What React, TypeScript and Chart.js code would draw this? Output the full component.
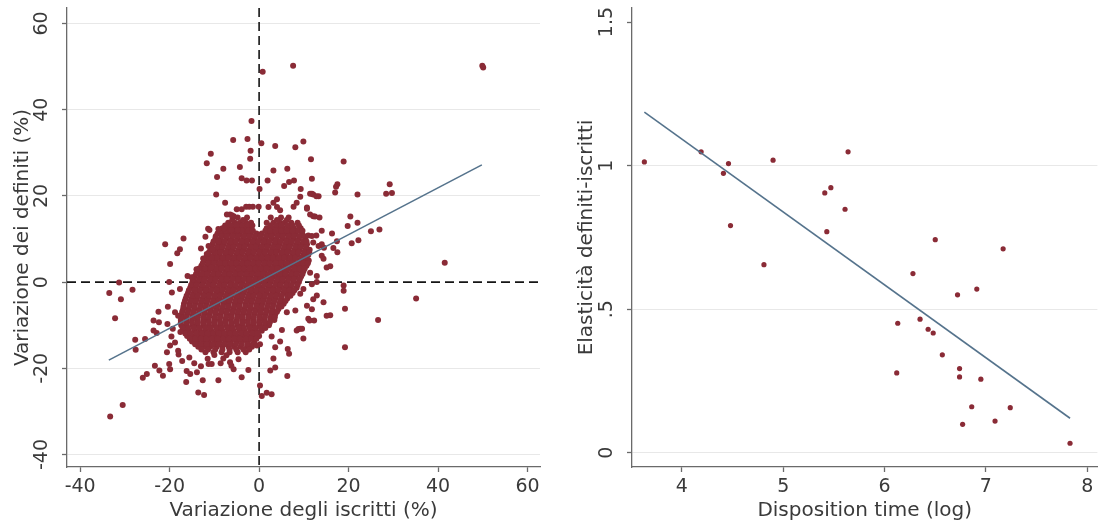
import React, { useEffect, useRef } from 'react';
import { Chart, registerables } from 'chart.js';

Chart.register(...registerables);

const FONT = "'DejaVu Sans', Verdana, sans-serif";
const TEXT = '#3a3a3a';
const MARKER = '#8a2b36';
const FIT = '#55738c';
const AXIS = '#6a6a6a';
const GRID = '#e8e8e8';

// ---------------- Left panel ----------------
const leftXTicks = [-40, -20, 0, 20, 40, 60];
const leftXLabels = ['-40', '-20', '0', '20', '40', '60'];
const leftYTicks = [-40, -20, 0, 20, 40, 60];
const leftYLabels = ['-40', '-20', '0', '20', '40', '60'];
const leftXRange = [-42.95, 62.8];
const leftYRange = [-42.9, 63.6];
const leftXTitle = 'Variazione degli iscritti (%)';
const leftYTitle = 'Variazione dei definiti (%)';
const leftFitX = [-33.6, 49.8];
const leftFitY = [-18.1, 27.2];

const leftOutliers: [number, number][] = [
  [0.8, 48.8], [7.6, 50.2], [49.9, 50.2], [50.1, 49.8],
  [-1.7, 37.4], [-5.8, 33.0], [-2.6, 33.2], [0.5, 32.2], [3.6, 31.6], [8.1, 31.3], [9.9, 32.6],
  [-1.9, 30.5], [-10.8, 29.8], [-2.0, 28.6], [-11.7, 27.6], [11.6, 28.5], [18.9, 28.0],
  [-8.0, 26.3], [-4.3, 26.7], [3.2, 25.9], [6.3, 26.3], [-9.4, 24.4], [-3.9, 24.1], [-2.8, 23.6],
  [-1.6, 23.6], [1.9, 23.6], [5.6, 22.3], [6.7, 23.2], [7.8, 23.6], [11.8, 24.0], [0.1, 21.6],
  [9.3, 21.6], [-9.6, 20.3], [11.8, 20.5], [12.8, 19.9], [9.2, 19.8], [8.4, 18.4], [-7.6, 18.4],
  [4.0, 19.2], [3.2, 18.4], [7.7, 17.5], [17.5, 22.7], [17.2, 22.1], [17.0, 20.8], [22.0, 20.3],
  [29.2, 22.7], [28.4, 20.5], [29.7, 20.7], [20.4, 15.2], [19.8, 13.0], [22.0, 13.8], [25.0, 11.8],
  [26.9, 12.2], [16.3, 11.3], [20.7, 9.0], [22.2, 9.7], [17.4, 9.5], [16.6, 7.9], [17.5, 6.9],
  [41.5, 4.5], [15.9, 3.7], [18.9, -0.8], [18.9, -2.0], [19.2, -6.2], [15.9, -7.7], [26.6, -8.8],
  [35.1, -3.8], [19.2, -15.1],
  [-33.5, -2.5], [-31.3, -0.1], [-30.9, -4.0], [-28.3, -1.8], [-32.2, -8.4], [-27.7, -13.4],
  [-25.5, -13.2], [-27.6, -15.7], [-26.0, -22.2], [-25.1, -21.3], [-23.6, -8.9], [-22.4, -9.3],
  [-23.6, -11.2], [-22.9, -11.8], [-22.5, -6.9], [-20.4, -5.7], [-20.5, -9.7], [-21.0, 8.8],
  [-16.9, 10.1], [-17.7, 7.6], [-18.3, 6.7], [-19.9, 4.2], [-20.1, 0.0], [-19.5, -2.4], [-17.7, -1.6],
  [-16.0, 1.4], [-15.1, 1.1], [-18.8, -7.0], [-18.1, -7.8], [-20.6, -16.3], [-19.9, -14.7],
  [-23.3, -19.4], [-20.1, -19.0], [-19.9, -20.2], [-22.3, -20.5], [-21.5, -21.7], [-18.8, -14.0],
  [-18.1, -15.9], [-16.2, -20.6], [-15.4, -21.3], [-13.9, -20.9], [-12.6, -22.8], [-16.3, -23.2],
  [-13.6, -25.6], [-12.3, -26.2], [-30.5, -28.5], [-33.3, -31.2], [-9.1, -22.8], [-11.3, -19.0],
  [0.2, -24.0], [0.6, -26.4], [1.7, -25.7], [2.8, -26.0], [-3.9, -22.1], [-2.4, -20.4], [-5.7, -20.2],
  [-4.6, -17.9], [-6.5, -18.6], [-6.2, -19.4], [-8.0, -17.7], [-10.6, -19.0], [3.6, -19.8],
  [2.5, -20.5], [6.3, -21.8], [3.2, -17.7], [6.4, -15.5], [6.7, -16.6], [3.6, -15.1], [4.7, -13.8],
  [2.8, -12.6], [5.1, -11.1], [9.9, -13.1], [8.8, -10.9], [9.6, -10.8], [11.3, -8.9], [12.3, -8.9],
  [14.4, -4.7], [15.1, -7.8], [-0.5, -14.7], [0.2, -14.4],
];

const leftFringe: [number, number][] = [
  [12.1, 20.3], [13.3, 19.9], [11.4, 20.5], [10.7, 17.3], [12.1, 15.3], [13.5, 15.0], [11.4, 15.7],
  [12.5, 15.2], [10.7, 17.0], [14.0, 11.9], [11.0, 10.8], [12.8, 10.8], [11.8, 10.7], [12.1, 9.2],
  [13.3, 8.4], [14.0, 8.8], [14.5, 8.0], [14.0, 6.1], [14.4, 5.4], [15.1, 3.4], [11.4, 2.2],
  [12.9, 1.4], [12.9, 0.0], [11.8, -0.5], [12.9, -3.1], [12.1, -4.0], [11.8, -6.3], [10.7, -5.5],
  [6.2, -7.0], [8.1, -6.6], [9.2, -2.7], [9.9, -1.6], [9.2, -10.8], [8.4, -11.2], [11.0, -8.5],
  [-6.5, 15.7], [-5.7, 15.3], [-5.0, 16.9], [-3.9, 16.9], [-2.9, 17.5], [-2.2, 17.5], [-1.4, 17.5],
  [-0.1, 17.5], [2.1, 17.4], [4.0, 17.4], [4.7, 16.7], [-7.2, 15.7], [-6.1, 15.5],
  [-11.3, 8.4], [-11.7, 6.5], [-10.4, 7.6], [-9.1, 9.5], [-14.0, 3.0], [-10.7, 3.4], [-11.1, 12.1],
  [-9.1, 12.3], [-7.8, 12.5], [-6.2, 12.1], [-4.8, 12.1], [-11.4, 12.4], [-12.0, 10.5], [-13.0, 7.8],
  [-12.5, 5.5], [-18.0, -16.8], [-17.2, -18.3], [-15.6, -17.5], [-14.5, -18.8], [-13.0, -19.5],
  [-11.5, -17.8], [-10.0, -16.9], [-8.6, -18.8], [-7.3, -17.0], [-17.6, -11.6], [-19.3, -10.8],
  [-19.6, -12.6],
];

const leftCoreRows: [number, number[]][] = [
  [15.0, [-4.8, -2.7, 2.6, 4.9, 6.6]],
  [13.8, [-6.9, -5.4, -4.3, -2.9, -1.8, 1.7, 3.2, 4.7, 5.7, 7.2, 8.6]],
  [12.5, [-8.2, -7.1, -5.7, -4.6, -3.3, -2.1, 1.7, 2.8, 4.1, 5.3, 6.6, 7.8, 9.3]],
  [11.3, [-9.3, -8.1, -6.9, -5.6, -4.4, -3.1, -1.9, -0.6, 0.6, 1.9, 3.1, 4.4, 5.6, 6.9, 8.2, 9.6]],
  [10.0, [-9.8, -8.6, -7.3, -6.1, -4.8, -3.6, -2.3, -1.1, 0.2, 1.4, 2.7, 3.9, 5.2, 6.4, 7.6, 8.9, 10.3]],
  [8.8, [-10.4, -9.1, -7.9, -6.6, -5.4, -4.1, -2.9, -1.6, -0.4, 0.9, 2.1, 3.4, 4.6, 5.9, 7.1, 8.4, 9.6, 10.7]],
  [7.5, [-10.9, -9.6, -8.4, -7.1, -5.9, -4.6, -3.4, -2.1, -0.9, 0.4, 1.6, 2.9, 4.1, 5.4, 6.6, 7.9, 9.1, 10.4, 11.3]],
  [6.3, [-11.4, -10.1, -8.9, -7.6, -6.4, -5.1, -3.9, -2.6, -1.4, -0.1, 1.1, 2.4, 3.6, 4.9, 6.1, 7.4, 8.6, 9.9, 11.0]],
  [5.0, [-12.3, -11.0, -9.8, -8.5, -7.3, -6.0, -4.8, -3.5, -2.3, -1.0, 0.2, 1.5, 2.7, 4.0, 5.2, 6.5, 7.7, 9.0, 10.2, 11.1]],
  [3.8, [-12.9, -11.6, -10.4, -9.1, -7.9, -6.6, -5.4, -4.1, -2.9, -1.6, -0.4, 0.9, 2.1, 3.4, 4.6, 5.9, 7.1, 8.4, 9.6, 10.6]],
  [2.5, [-13.8, -12.5, -11.3, -10.0, -8.8, -7.5, -6.3, -5.0, -3.8, -2.5, -1.3, 0.0, 1.2, 2.5, 3.7, 5.0, 6.2, 7.5, 8.7, 9.9]],
  [1.3, [-14.4, -13.1, -11.9, -10.6, -9.4, -8.1, -6.9, -5.6, -4.4, -3.1, -1.9, -0.6, 0.6, 1.9, 3.1, 4.4, 5.6, 6.9, 8.1, 9.4]],
  [0.0, [-14.9, -13.7, -12.4, -11.2, -9.9, -8.7, -7.4, -6.2, -4.9, -3.7, -2.4, -1.2, 0.1, 1.3, 2.6, 3.8, 5.1, 6.3, 7.6, 8.9]],
  [-1.3, [-15.4, -14.2, -12.9, -11.7, -10.4, -9.2, -7.9, -6.7, -5.4, -4.2, -2.9, -1.7, -0.4, 0.8, 2.1, 3.3, 4.6, 5.8, 7.1, 8.4]],
  [-2.5, [-15.9, -14.6, -13.4, -12.1, -10.9, -9.6, -8.4, -7.1, -5.9, -4.6, -3.4, -2.1, -0.9, 0.4, 1.6, 2.9, 4.1, 5.4, 6.6, 7.5]],
  [-3.8, [-16.4, -15.1, -13.9, -12.6, -11.4, -10.1, -8.9, -7.6, -6.4, -5.1, -3.9, -2.6, -1.4, -0.1, 1.1, 2.4, 3.6, 4.9, 6.3]],
  [-5.0, [-16.8, -15.5, -14.3, -13.0, -11.8, -10.5, -9.3, -8.0, -6.8, -5.5, -4.3, -3.0, -1.8, -0.5, 0.7, 2.0, 3.2, 4.5, 5.5]],
  [-6.3, [-17.0, -15.8, -14.5, -13.3, -12.0, -10.8, -9.5, -8.3, -7.0, -5.8, -4.5, -3.3, -2.0, -0.8, 0.5, 1.7, 3.0, 4.3]],
  [-7.5, [-17.3, -16.1, -14.8, -13.6, -12.3, -11.1, -9.8, -8.6, -7.3, -6.1, -4.8, -3.6, -2.3, -1.1, 0.2, 1.4, 2.7, 3.6]],
  [-8.8, [-17.5, -16.3, -15.0, -13.8, -12.5, -11.3, -10.0, -8.8, -7.5, -6.3, -5.0, -3.8, -2.5, -1.3, 0.0, 1.2, 2.5, 3.4]],
  [-10.0, [-17.4, -16.2, -14.9, -13.7, -12.4, -11.2, -9.9, -8.7, -7.4, -6.2, -4.9, -3.7, -2.4, -1.2, 0.1, 1.3, 2.2]],
  [-11.3, [-16.9, -15.7, -14.4, -13.2, -11.9, -10.7, -9.4, -8.2, -6.9, -5.7, -4.4, -3.2, -1.9, -0.7, 0.6]],
  [-12.5, [-16.1, -14.9, -13.6, -12.4, -11.1, -9.9, -8.6, -7.4, -6.1, -4.9, -3.6, -2.4, -1.1, 0.0]],
  [-13.8, [-15.0, -13.8, -12.5, -11.3, -10.0, -8.8, -7.5, -6.3, -5.0, -3.8, -2.5, -1.1]],
  [-15.0, [-13.6, -12.2, -10.9, -9.5, -8.2, -6.8, -5.5, -4.1, -2.7, -1.6]],
  [-16.3, [-12.0, -10.2, -8.4, -6.6, -4.8, -3.0]],
];

const leftCoreRowsB: [number, number[]][] = [
  [14.4, [-6.0, -3.6, 4.0, 6.2]],
  [13.15, [-7.6, -6.3, -5.0, -3.8, -2.5, -1.5, 2.5, 3.8, 5.0, 6.3, 7.5, 8.9]],
  [11.9, [-8.8, -7.5, -6.3, -5.0, -3.8, -2.5, -1.4, 1.4, 2.5, 3.7, 5.0, 6.2, 7.5, 8.7, 9.7]],
  [10.65, [-9.7, -8.4, -7.2, -5.9, -4.7, -3.4, -2.2, -0.9, 0.3, 1.6, 2.8, 4.1, 5.3, 6.6, 7.8, 9.1, 10.1]],
  [9.4, [-10.2, -8.9, -7.7, -6.4, -5.2, -3.9, -2.7, -1.4, -0.2, 1.1, 2.3, 3.6, 4.8, 6.1, 7.3, 8.6, 9.9, 10.6]],
  [8.15, [-10.7, -9.4, -8.2, -6.9, -5.7, -4.4, -3.2, -1.9, -0.7, 0.6, 1.8, 3.1, 4.3, 5.6, 6.8, 8.1, 9.3, 10.5]],
  [6.9, [-11.2, -9.9, -8.7, -7.4, -6.2, -4.9, -3.7, -2.4, -1.2, 0.1, 1.3, 2.6, 3.8, 5.1, 6.3, 7.6, 8.8, 10.1, 11.2]],
  [5.65, [-11.9, -10.6, -9.4, -8.1, -6.9, -5.6, -4.4, -3.1, -1.9, -0.6, 0.6, 1.9, 3.1, 4.4, 5.6, 6.9, 8.1, 9.4, 10.6]],
  [4.4, [-12.6, -11.3, -10.1, -8.8, -7.6, -6.3, -5.1, -3.8, -2.6, -1.3, -0.1, 1.2, 2.4, 3.7, 4.9, 6.2, 7.4, 8.7, 9.9, 10.9]],
  [3.15, [-13.4, -12.1, -10.9, -9.6, -8.4, -7.1, -5.9, -4.6, -3.4, -2.1, -0.9, 0.4, 1.6, 2.9, 4.1, 5.4, 6.6, 7.9, 9.1, 10.2]],
  [1.9, [-14.1, -12.8, -11.6, -10.3, -9.1, -7.8, -6.6, -5.3, -4.1, -2.8, -1.6, -0.3, 0.9, 2.2, 3.4, 4.7, 5.9, 7.2, 8.4, 9.7]],
  [0.65, [-14.7, -13.4, -12.2, -10.9, -9.7, -8.4, -7.2, -5.9, -4.7, -3.4, -2.2, -0.9, 0.3, 1.6, 2.8, 4.1, 5.3, 6.6, 7.8, 9.1]],
  [-0.65, [-15.2, -13.9, -12.7, -11.4, -10.2, -8.9, -7.7, -6.4, -5.2, -3.9, -2.7, -1.4, -0.2, 1.1, 2.3, 3.6, 4.8, 6.1, 7.3, 8.6]],
  [-1.9, [-15.7, -14.4, -13.2, -11.9, -10.7, -9.4, -8.2, -6.9, -5.7, -4.4, -3.2, -1.9, -0.7, 0.6, 1.8, 3.1, 4.3, 5.6, 6.8, 7.9]],
  [-3.15, [-16.2, -14.9, -13.7, -12.4, -11.2, -9.9, -8.7, -7.4, -6.2, -4.9, -3.7, -2.4, -1.2, 0.1, 1.3, 2.6, 3.8, 5.1, 6.4, 7.0]],
  [-4.4, [-16.6, -15.3, -14.1, -12.8, -11.6, -10.3, -9.1, -7.8, -6.6, -5.3, -4.1, -2.8, -1.6, -0.3, 0.9, 2.2, 3.4, 4.7, 5.9]],
  [-5.65, [-16.9, -15.6, -14.4, -13.1, -11.9, -10.6, -9.4, -8.1, -6.9, -5.6, -4.4, -3.1, -1.9, -0.6, 0.6, 1.9, 3.1, 4.4, 5.0]],
  [-6.9, [-17.2, -15.9, -14.7, -13.4, -12.2, -10.9, -9.7, -8.4, -7.2, -5.9, -4.7, -3.4, -2.2, -0.9, 0.3, 1.6, 2.8, 4.0]],
  [-8.15, [-17.4, -16.2, -14.9, -13.7, -12.4, -11.2, -9.9, -8.7, -7.4, -6.2, -4.9, -3.7, -2.4, -1.2, 0.1, 1.3, 2.6, 3.5]],
  [-9.4, [-17.5, -16.2, -15.0, -13.7, -12.5, -11.2, -10.0, -8.7, -7.5, -6.2, -5.0, -3.7, -2.5, -1.2, 0.0, 1.3, 2.4]],
  [-10.65, [-17.1, -15.9, -14.6, -13.4, -12.1, -10.9, -9.6, -8.4, -7.1, -5.9, -4.6, -3.4, -2.1, -0.9, 0.4, 1.4]],
  [-11.9, [-16.5, -15.3, -14.0, -12.8, -11.5, -10.3, -9.0, -7.8, -6.5, -5.3, -4.0, -2.8, -1.5, -0.3]],
  [-13.15, [-15.5, -14.3, -13.0, -11.8, -10.5, -9.3, -8.0, -6.8, -5.5, -4.3, -3.0, -1.8, -0.6]],
  [-14.4, [-14.3, -13.0, -11.7, -10.4, -9.1, -7.8, -6.5, -5.2, -3.9, -2.6, -1.4]],
  [-15.65, [-12.9, -11.4, -9.8, -8.2, -6.6, -5.1, -3.5, -2.2]],
];

// ---------------- Right panel ----------------
const rightXTicks = [4, 5, 6, 7, 8];
const rightXLabels = ['4', '5', '6', '7', '8'];
const rightYTicks = [0, 0.5, 1, 1.5];
const rightYLabels = ['0', '.5', '1', '1.5'];
const rightXRange = [3.508, 8.1];
const rightYRange = [-0.0498, 1.549];
const rightXTitle = 'Disposition time (log)';
const rightYTitle = 'Elasticità definiti-iscritti';
const rightX = [3.63, 4.19, 4.41, 4.46, 4.48, 4.81, 4.90, 5.41, 5.47, 5.43, 5.61, 5.64, 6.50, 7.17, 6.28, 6.72,
  6.91, 6.13, 6.35, 6.43, 6.48, 6.57, 6.12, 6.74, 6.74, 6.95, 6.86, 7.24, 6.77, 7.09, 7.83];
const rightY = [1.013, 1.048, 0.973, 1.007, 0.791, 0.655, 1.019, 0.905, 0.923, 0.770, 0.848, 1.048, 0.742, 0.710,
  0.624, 0.550, 0.570, 0.451, 0.465, 0.430, 0.417, 0.341, 0.278, 0.293, 0.264, 0.256, 0.160, 0.157, 0.099, 0.110, 0.033];
const rightFitX = [3.63, 7.83];
const rightFitY = [1.186, 0.12];

type PanelCfg = {
  points: { x: number; y: number }[];
  fit: { x: number; y: number }[];
  radius: number;
  xRange: number[];
  yRange: number[];
  xTicks: number[];
  xLabels: string[];
  yTicks: number[];
  yLabels: string[];
  xTitle: string;
  yTitle: string;
  yWidth: number;
  padRight: number;
  refLines: boolean;
  gridSkip: (v: number) => boolean;
  yTitleBaseline: number;
};

function makePlugin(p: PanelCfg) {
  return {
    id: 'stataDecor',
    beforeDatasetsDraw(chart: any) {
      if (!p.refLines) return;
      const { ctx, chartArea: a, scales } = chart;
      ctx.save();
      ctx.strokeStyle = '#151515';
      ctx.lineWidth = 1.6;
      ctx.setLineDash([9, 5]);
      const px = scales.x.getPixelForValue(0);
      ctx.beginPath();
      ctx.moveTo(px, a.top);
      ctx.lineTo(px, a.bottom);
      ctx.stroke();
      const py = scales.y.getPixelForValue(0);
      ctx.beginPath();
      ctx.moveTo(a.left, py);
      ctx.lineTo(a.right, py);
      ctx.stroke();
      ctx.restore();
    },
    afterDraw(chart: any) {
      const { ctx, chartArea: a, scales } = chart;
      ctx.save();
      ctx.fillStyle = TEXT;
      ctx.textAlign = 'center';
      ctx.textBaseline = 'alphabetic';
      ctx.font = `19px ${FONT}`;
      p.xTicks.forEach((v, i) => {
        ctx.fillText(p.xLabels[i], scales.x.getPixelForValue(v), 491.5);
      });
      p.yTicks.forEach((v, i) => {
        ctx.save();
        ctx.translate(a.left - 20, scales.y.getPixelForValue(v));
        ctx.rotate(-Math.PI / 2);
        ctx.fillText(p.yLabels[i], 0, 0);
        ctx.restore();
      });
      ctx.font = `20px ${FONT}`;
      ctx.fillText(p.xTitle, (a.left + a.right) / 2, 515.5);
      ctx.save();
      ctx.translate(p.yTitleBaseline, (a.top + a.bottom) / 2);
      ctx.rotate(-Math.PI / 2);
      ctx.fillText(p.yTitle, 0, 0);
      ctx.restore();
      ctx.restore();
    },
  };
}

function Panel({ cfg }: { cfg: PanelCfg }) {
  const ref = useRef<HTMLCanvasElement | null>(null);
  useEffect(() => {
    if (!ref.current) return;
    const chart = new Chart(ref.current, {
      type: 'scatter',
      data: {
        datasets: [
          {
            type: 'line',
            data: cfg.fit,
            borderColor: FIT,
            borderWidth: 1.6,
            pointRadius: 0,
            fill: false,
            order: 0,
          } as any,
          {
            type: 'scatter',
            data: cfg.points,
            backgroundColor: MARKER,
            borderWidth: 0,
            pointRadius: cfg.radius,
            pointHoverRadius: cfg.radius,
            order: 1,
          } as any,
        ],
      },
      options: {
        responsive: false,
        animation: false,
        devicePixelRatio: 1,
        events: [],
        layout: { padding: { top: 8, right: cfg.padRight, left: 0, bottom: 0 } },
        plugins: { legend: { display: false }, tooltip: { enabled: false } },
        scales: {
          x: {
            type: 'linear',
            min: cfg.xRange[0],
            max: cfg.xRange[1],
            afterBuildTicks: (s: any) => {
              s.ticks = cfg.xTicks.map((v) => ({ value: v }));
            },
            afterFit: (s: any) => {
              s.height = 59;
            },
            ticks: { display: false },
            grid: { drawOnChartArea: false, drawTicks: true, tickLength: 5, tickColor: AXIS, tickWidth: 1.3 },
            border: { display: true, color: AXIS, width: 1.3 },
          },
          y: {
            type: 'linear',
            min: cfg.yRange[0],
            max: cfg.yRange[1],
            afterBuildTicks: (s: any) => {
              s.ticks = cfg.yTicks.map((v) => ({ value: v }));
            },
            afterFit: (s: any) => {
              s.width = cfg.yWidth;
            },
            ticks: { display: false },
            grid: {
              color: (c: any) => (cfg.gridSkip(c.tick ? c.tick.value : NaN) ? 'rgba(0,0,0,0)' : GRID),
              lineWidth: 1,
              drawTicks: true,
              tickLength: 5,
              tickColor: AXIS,
              tickWidth: 1.3,
            },
            border: { display: true, color: AXIS, width: 1.3 },
          },
        },
      } as any,
      plugins: [makePlugin(cfg) as any],
    });
    return () => chart.destroy();
  }, [cfg]);
  return <canvas ref={ref} width={550} height={526} style={{ display: 'block', width: 550, height: 526 }} />;
}

const leftPoints = [
  ...leftCoreRows.flatMap(([y, xs]) => xs.map((x) => ({ x, y }))),
  ...leftCoreRowsB.flatMap(([y, xs]) => xs.map((x) => ({ x, y }))),
  ...leftFringe.map(([x, y]) => ({ x, y })),
  ...leftOutliers.map(([x, y]) => ({ x, y })),
];

const leftCfg: PanelCfg = {
  points: leftPoints,
  fit: leftFitX.map((x, i) => ({ x, y: leftFitY[i] })),
  radius: 3,
  xRange: leftXRange,
  yRange: leftYRange,
  xTicks: leftXTicks,
  xLabels: leftXLabels,
  yTicks: leftYTicks,
  yLabels: leftYLabels,
  xTitle: leftXTitle,
  yTitle: leftYTitle,
  yWidth: 67,
  padRight: 10,
  refLines: true,
  gridSkip: (v) => v === 0,
  yTitleBaseline: 27.5,
};

const rightCfg: PanelCfg = {
  points: rightX.map((x, i) => ({ x, y: rightY[i] })),
  fit: rightFitX.map((x, i) => ({ x, y: rightFitY[i] })),
  radius: 2.6,
  xRange: rightXRange,
  yRange: rightYRange,
  xTicks: rightXTicks,
  xLabels: rightXLabels,
  yTicks: rightYTicks,
  yLabels: rightYLabels,
  xTitle: rightXTitle,
  yTitle: rightYTitle,
  yWidth: 82,
  padRight: 0,
  refLines: false,
  gridSkip: (v) => v === 1.5,
  yTitleBaseline: 42,
};

export default function App() {
  return (
    <div style={{ position: 'absolute', left: 0, top: 0, width: 1100, height: 526, background: '#fff', display: 'flex' }}>
      <Panel cfg={leftCfg} />
      <Panel cfg={rightCfg} />
    </div>
  );
}
